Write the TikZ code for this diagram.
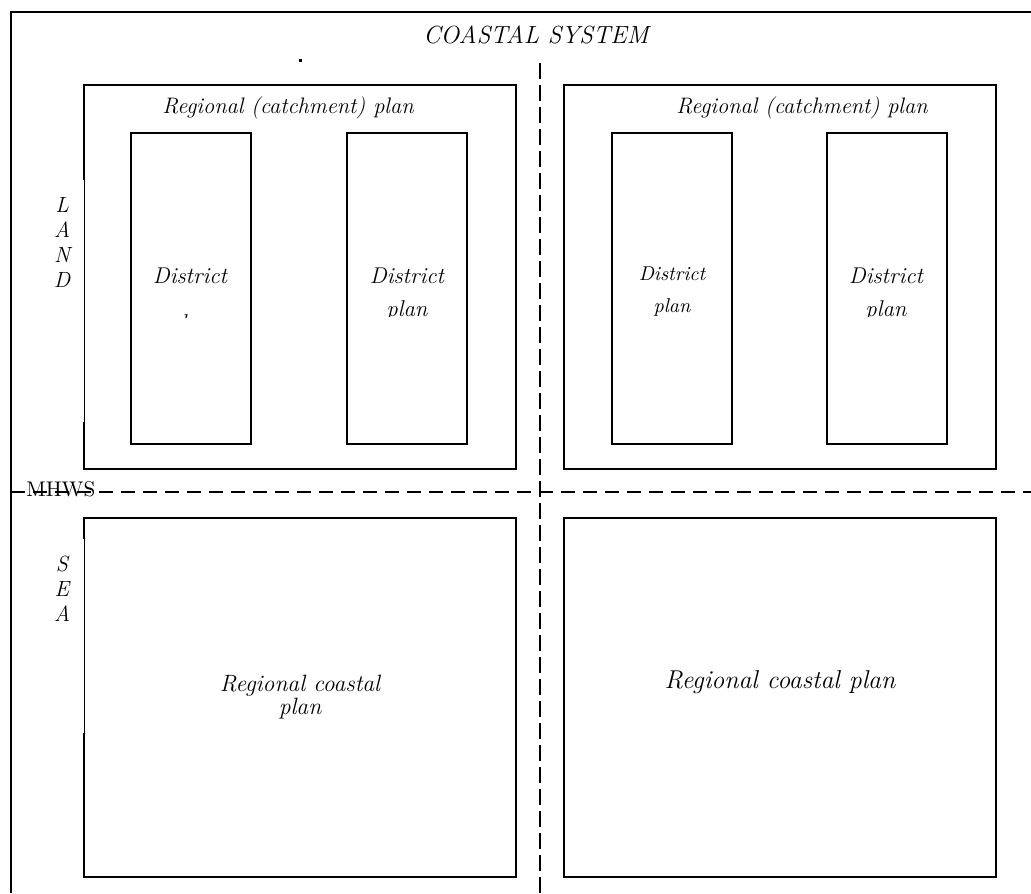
\documentclass[tikz,border=0pt]{standalone}
\usetikzlibrary{positioning}
\begin{document}
\begin{tikzpicture}[x=0.5pt,y=-0.5pt]
\tikzset{planbox/.style = {draw, line width=0.9pt, inner sep=0pt, outer sep=0pt, anchor=north west},
	plantext/.style = {font=\itshape\fontsize{11.2}{13}\selectfont, inner sep=0pt},
	disttext/.style = {font=\itshape\fontsize{11.4}{13}\selectfont, inner sep=0pt, anchor=base},
	sideword/.style = {font=\itshape\fontsize{11}{12.5}\selectfont, align=center, inner sep=0pt},
	hdivider/.style = {line width=0.8pt, dash pattern=on 7pt off 4pt},
	vdivider/.style = {line width=0.8pt, dash pattern=on 8pt off 3pt}}
\useasboundingbox (0,0) rectangle (1031,893);

% outer frame and dividers
\draw[line width=1pt] (11,893) -- (11,12) -- (1031,12);
\coordinate (divtop) at (540,63);
\coordinate (divbot) at (540,893);
\coordinate (mhwsL) at (11,492);
\coordinate (mhwsR) at (1031,492);
\draw[vdivider] (divtop) -- (divbot);
\draw[hdivider] (mhwsL) -- (mhwsR);

\node[plantext, font=\itshape\fontsize{12.4}{14}\selectfont] (coast) at (536,35) {COASTAL SYSTEM};
\node[fill, inner sep=0pt, minimum size=1.5pt] (dot) at (300,61) {};

% land side
\node[planbox, minimum width=216pt, minimum height=192pt] (regL) at (84,85) {};
\node[planbox, minimum width=216pt, minimum height=192pt] (regR) at (564,85) {};
\foreach \name/\x in {dA/131, dB/347, dC/612, dD/827}
	\node[planbox, minimum width=60pt, minimum height=155.5pt] (\name) at (\x,133) {};
\node[plantext] (regLtitle) at (288,108) {Regional (catchment) plan};
\node[plantext] (regRtitle) at (802,108) {Regional (catchment) plan};

\node[disttext] (dAtop) at (190,283) {District};
\begin{scope}
	\clip (131,133) rectangle (251,317);
	\node[disttext] (dAbot) at (190,330) {plan};
\end{scope}
\node[disttext] (dBtop) at (407,283) {District};
\begin{scope}
	\clip (347,133) rectangle (467,316);
	\node[disttext] (dBbot) at (407,316) {plan};
\end{scope}
\node[disttext, font=\itshape\fontsize{10}{12}\selectfont] (dCtop) at (672,280) {District};
\node[disttext, font=\itshape\fontsize{10}{12}\selectfont] (dCbot) at (672,312) {plan};
\node[disttext] (dDtop) at (886,283) {District};
\begin{scope}
	\clip (827,133) rectangle (947,316);
	\node[disttext] (dDbot) at (886,316) {plan};
\end{scope}

% sea side
\node[planbox, minimum width=216pt, minimum height=179.5pt] (seaL) at (84,518) {};
\node[planbox, minimum width=216pt, minimum height=179.5pt] (seaR) at (564,518) {};
\node[plantext, align=center, font=\itshape\fontsize{11.8}{10}\selectfont] (seaLtext) at (300,697) {Regional coastal\\plan};
\node[plantext, font=\itshape\fontsize{12.9}{14}\selectfont] (seaRtext) at (780,682) {Regional coastal plan};

% thin parts of the left edges
\draw[white, line width=1.2pt] (84,180) -- (84,422);
\draw[line width=0.4pt] (84.8,180) -- (84.8,422);
\draw[white, line width=1.2pt] (84,539) -- (84,733);
\draw[line width=0.4pt] (84.8,539) -- (84.8,733);

\node[sideword] (land) at (62,242) {L\\A\\N\\D};
\node[sideword] (sea) at (62,589) {S\\E\\A};
\node[font=\fontsize{10.6}{12}\selectfont, inner sep=0pt, anchor=west] (mhws) at (26,489) {MHWS};
\end{tikzpicture}
\end{document}
